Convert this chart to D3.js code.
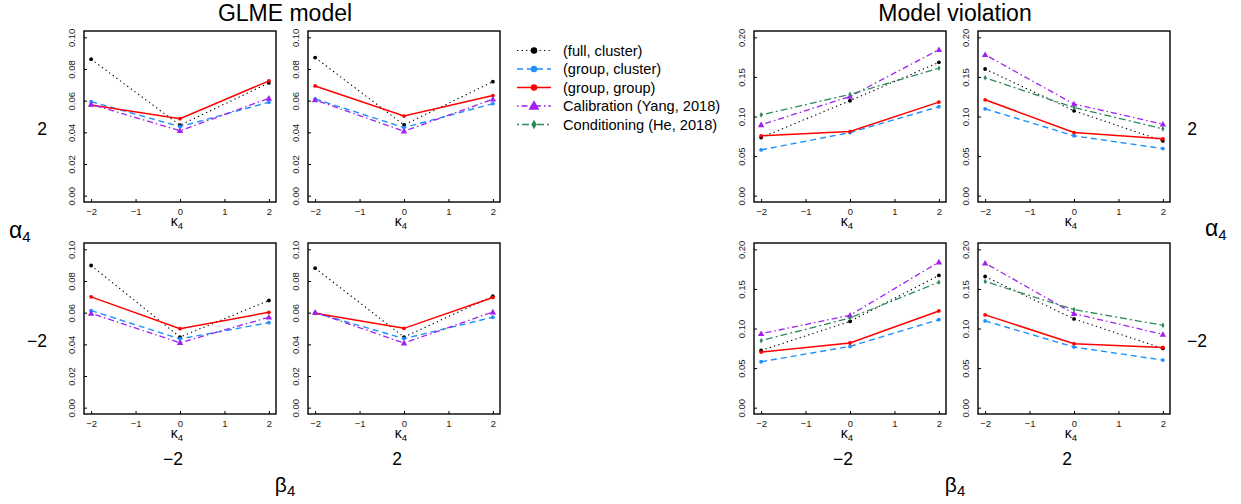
<!DOCTYPE html>
<html><head><meta charset="utf-8">
<script src="https://cdn.jsdelivr.net/npm/d3@7"></script>
<style>body{margin:0;background:#fff}svg{display:block}text{font-family:"Liberation Sans",Arial,sans-serif}</style>
</head><body><svg id="c" width="1241" height="504"></svg>
<script>
// ---------------- data ----------------
const kappa = [-2, 0, 2];
const xTicks = [-2, -1, 0, 1, 2];
const yTicksGLME = [0, 0.02, 0.04, 0.06, 0.08, 0.10];
const yTicksMV = [0, 0.05, 0.10, 0.15, 0.20];
const seriesNames = ["(full, cluster)", "(group, cluster)", "(group, group)", "Calibration (Yang, 2018)", "Conditioning (He, 2018)"];
const titles = ["GLME model", "Model violation"];
const levelLabels = ["\u22122", "2"];

// each: [full cluster], [group cluster], [group group], [calibration], ([conditioning])
const glme_a2_bm2 = [[0.0862, 0.0445, 0.0712], [0.0594, 0.0436, 0.0590], [0.0573, 0.0486, 0.0725], [0.0577, 0.0410, 0.0615]];
const glme_a2_b2  = [[0.0872, 0.0447, 0.0720], [0.0611, 0.0430, 0.0581], [0.0693, 0.0503, 0.0632], [0.0605, 0.0407, 0.0609]];
const glme_am2_bm2 = [[0.0898, 0.0446, 0.0677], [0.0613, 0.0434, 0.0537], [0.0700, 0.0499, 0.0602], [0.0596, 0.0410, 0.0571]];
const glme_am2_b2  = [[0.0881, 0.0446, 0.0704], [0.0600, 0.0436, 0.0571], [0.0596, 0.0501, 0.0696], [0.0602, 0.0408, 0.0604]];
const mv_a2_bm2 = [[0.0734, 0.1199, 0.1684], [0.0578, 0.0797, 0.1123], [0.0756, 0.0810, 0.1182], [0.0895, 0.1253, 0.1844], [0.1020, 0.1280, 0.1610]];
const mv_a2_b2  = [[0.1600, 0.1072, 0.0692], [0.1097, 0.0756, 0.0595], [0.1211, 0.0797, 0.0718], [0.1780, 0.1157, 0.0904], [0.1490, 0.1114, 0.0844]];
const mv_am2_bm2 = [[0.0723, 0.1090, 0.1670], [0.0580, 0.0774, 0.1112], [0.0702, 0.0817, 0.1222], [0.0935, 0.1167, 0.1839], [0.0846, 0.1134, 0.1585]];
const mv_am2_b2  = [[0.1657, 0.1121, 0.0748], [0.1096, 0.0766, 0.0601], [0.1172, 0.0808, 0.0761], [0.1826, 0.1188, 0.0926], [0.1594, 0.1239, 0.1040]];

// ---------------- styles ----------------
const styles = [
  {color: "#000000", dash: "1.3,3.2", width: 1.1, sym: "dot"},
  {color: "#1E90FF", dash: "6,4", width: 1.4, sym: "dot"},
  {color: "#FF0000", dash: null, width: 1.5, sym: "dot"},
  {color: "#A020F0", dash: "1.5,3,6,3", width: 1.3, sym: "tri"},
  {color: "#2E8B57", dash: "2,3,7,3", width: 1.3, sym: "dia"}
];

const svg = d3.select("#c");
const PW = 192, PH = 171;
const colX = [[84, 308], [754, 978]];
const rowY = [31, 243];

function sym(g, s, x, y, scale) {
  if (s.sym === "dot") {
    g.append("circle").attr("cx", x).attr("cy", y).attr("r", 1.9 * scale).attr("fill", s.color);
  } else if (s.sym === "tri") {
    g.append("path").attr("d", d3.symbol(d3.symbolTriangle, 18 * scale * scale)()).attr("transform", `translate(${x},${y + 0.5})`).attr("fill", s.color);
  } else {
    g.append("path").attr("d", d3.symbol(d3.symbolDiamond, 9 * scale * scale)()).attr("transform", `translate(${x},${y})`).attr("fill", s.color);
  }
}

function panel(x0, y0, data, yMax, yTicks, fmt) {
  const pad = 0.04;
  const x = d3.scaleLinear().domain([-2 - 4 * pad, 2 + 4 * pad]).range([x0, x0 + PW]);
  const y = d3.scaleLinear().domain([-yMax * pad, yMax * (1 + pad)]).range([y0 + PH, y0]);
  const g = svg.append("g");
  const ax = d3.axisBottom(x).tickValues(xTicks).tickSizeInner(-3).tickSizeOuter(0).tickPadding(6.5)
    .tickFormat(d => d < 0 ? "\u2212" + Math.abs(d) : String(d));
  const xa = g.append("g").attr("transform", `translate(0,${y0 + PH})`).call(ax);
  xa.select(".domain").remove();
  xa.selectAll("text").attr("font-size", 9.5).attr("font-family", "Liberation Sans").attr("fill", "#222");
  xa.selectAll("line").attr("stroke", "#000");
  const ay = d3.axisLeft(y).tickValues(yTicks).tickSizeInner(-3).tickSizeOuter(0).tickFormat(fmt);
  const ya = g.append("g").attr("transform", `translate(${x0},0)`).call(ay);
  ya.select(".domain").remove();
  ya.selectAll("line").attr("stroke", "#000");
  ya.selectAll("text").attr("font-size", 9.5).attr("font-family", "Liberation Sans").attr("fill", "#222")
    .attr("x", null).attr("dy", null).attr("text-anchor", "middle")
    .attr("transform", "translate(-9.5,0) rotate(-90)");
  g.append("rect").attr("x", x0).attr("y", y0).attr("width", PW).attr("height", PH)
    .attr("fill", "none").attr("stroke", "#000").attr("stroke-width", 1.4);
  const kl = g.append("text").attr("x", x0 + PW / 2 - 3).attr("y", y0 + PH + 23.5).attr("text-anchor", "middle").attr("font-size", 14);
  kl.append("tspan").text("\u03BA");
  kl.append("tspan").attr("font-size", 9.5).attr("dy", 3).text("4");
  const line = d3.line().x((d, i) => x(kappa[i])).y(d => y(d));
  data.forEach((vals, si) => {
    const s = styles[si];
    g.append("path").attr("d", line(vals)).attr("fill", "none").attr("stroke", s.color)
      .attr("stroke-width", s.width).attr("stroke-dasharray", s.dash);
  });
  data.forEach((vals, si) => {
    vals.forEach((v, i) => sym(g, styles[si], x(kappa[i]), y(v), 1));
  });
}

const fmt2 = d3.format(".2f");
panel(colX[0][0], rowY[0], glme_a2_bm2, 0.10, yTicksGLME, fmt2);
panel(colX[0][1], rowY[0], glme_a2_b2, 0.10, yTicksGLME, fmt2);
panel(colX[0][0], rowY[1], glme_am2_bm2, 0.10, yTicksGLME, fmt2);
panel(colX[0][1], rowY[1], glme_am2_b2, 0.10, yTicksGLME, fmt2);
panel(colX[1][0], rowY[0], mv_a2_bm2, 0.20, yTicksMV, fmt2);
panel(colX[1][1], rowY[0], mv_a2_b2, 0.20, yTicksMV, fmt2);
panel(colX[1][0], rowY[1], mv_am2_bm2, 0.20, yTicksMV, fmt2);
panel(colX[1][1], rowY[1], mv_am2_b2, 0.20, yTicksMV, fmt2);

[0, 1].forEach(k => {
  const cx = (colX[k][0] + colX[k][1] + PW) / 2 - 7;
  svg.append("text").attr("x", cx).attr("y", 21).attr("text-anchor", "middle").attr("font-size", 23).text(titles[k]);
  [0, 1].forEach(c => {
    svg.append("text").attr("x", colX[k][c] + PW / 2 - 7).attr("y", 465).attr("text-anchor", "middle")
      .attr("font-size", 17.5).text(levelLabels[c]);
  });
  const b = svg.append("text").attr("x", cx).attr("y", 492).attr("text-anchor", "middle").attr("font-size", 21);
  b.append("tspan").text("\u03B2");
  b.append("tspan").attr("font-size", 15).attr("dy", 4).text("4");
});
const rowLabelX = [[42, 1192], [37, 1197]];
[0, 1].forEach(r => {
  const cy = [135, 347][r];
  const lab = r === 0 ? levelLabels[1] : levelLabels[0];
  svg.append("text").attr("x", rowLabelX[r][0]).attr("y", cy).attr("text-anchor", "middle").attr("font-size", 17.5).text(lab);
  svg.append("text").attr("x", rowLabelX[r][1]).attr("y", cy).attr("text-anchor", "middle").attr("font-size", 17.5).text(lab);
});
[[9, 238], [1205, 236]].forEach(p => {
  const a = svg.append("text").attr("x", p[0]).attr("y", p[1]).attr("font-size", 23);
  a.append("tspan").text("\u03B1");
  a.append("tspan").attr("font-size", 15).attr("dy", 4).text("4");
});

const legY = [50.5, 69, 87.5, 106, 124.5];
seriesNames.forEach((n, i) => {
  const s = styles[i];
  const g = svg.append("g");
  g.append("line").attr("x1", 517).attr("x2", 551).attr("y1", legY[i]).attr("y2", legY[i])
    .attr("stroke", s.color).attr("stroke-width", s.width).attr("stroke-dasharray", s.dash);
  sym(g, s, 534, legY[i], 1.7);
  g.append("text").attr("x", 563).attr("y", legY[i] + 5).attr("font-size", 14.6).text(n);
});
</script></body></html>
